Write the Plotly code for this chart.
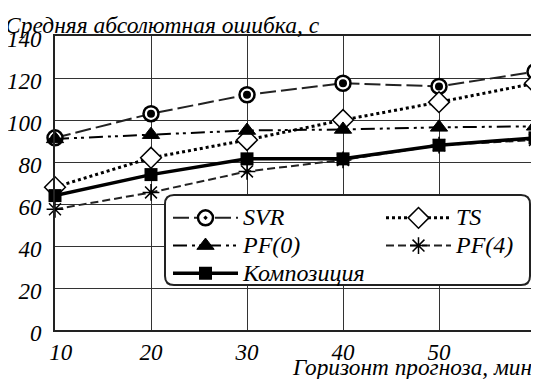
import plotly.graph_objects as go

horizon = [10, 20, 30, 40, 50, 60]
svr = [91.5, 103, 112, 117.5, 116, 123]
ts = [68, 82, 90.5, 100, 108.5, 117.5]
pf0 = [91, 93, 95, 95.5, 96.5, 97]
pf4 = [57.5, 65.5, 75.5, 81, 88, 90.5]
comp = [64, 74, 81.5, 81.5, 88, 91.5]

series_names = ["SVR", "TS", "PF(0)", "PF(4)", "Композиция"]

x_ticks = [10, 20, 30, 40, 50, 60]
x_ticktext = ["\u00a0\u00a010", "20", "30", "40", "50", "60\u00a0\u00a0"]
y_ticks = [0, 20, 40, 60, 80, 100, 120, 140]

y_title = "Средняя абсолютная ошибка, с"
x_title = "Горизонт прогноза, мин"

FONT = "'Liberation Serif', 'Times New Roman', serif"


def lname(s):
    return f"<span style='font-size:24px'>{s}</span>"


fig = go.Figure()

# SVR
fig.add_trace(go.Scatter(
    x=horizon, y=svr, name=lname(series_names[0]), mode="lines+markers",
    line=dict(color="#222", width=2, dash="16px,5px"),
    marker=dict(symbol="circle-dot", size=15, color="white",
                line=dict(color="black", width=2.5)),
    cliponaxis=False, legendgroup="svr"))
# TS
fig.add_trace(go.Scatter(
    x=horizon, y=ts, name=lname(series_names[1]), mode="lines+markers",
    line=dict(color="black", width=3, dash="3px,3px"),
    marker=dict(symbol="diamond", size=16, color="white",
                line=dict(color="black", width=1.5)),
    cliponaxis=False))
# PF(0)
fig.add_trace(go.Scatter(
    x=horizon, y=pf0, name=lname(series_names[2]), mode="lines+markers",
    line=dict(color="black", width=2, dash="14px,5px,3px,4px,3px,5px"),
    marker=dict(symbol="triangle-up", size=15, color="black",
                line=dict(color="black", width=1)),
    cliponaxis=False))
# PF(4)
fig.add_trace(go.Scatter(
    x=horizon, y=pf4, name=lname(series_names[3]), mode="lines+markers",
    line=dict(color="#222", width=2, dash="8px,4px"),
    marker=dict(symbol="asterisk-open", size=14, color="black",
                line=dict(color="black", width=1.5)),
    cliponaxis=False))
# Composition
fig.add_trace(go.Scatter(
    x=horizon, y=comp, name=lname(series_names[4]), mode="lines+markers",
    line=dict(color="black", width=3.5),
    marker=dict(symbol="square", size=13, color="black"),
    cliponaxis=False))
# SVR center dots
fig.add_trace(go.Scatter(
    x=horizon, y=svr, mode="markers", showlegend=False,
    marker=dict(symbol="circle", size=8, color="black"),
    cliponaxis=False, legendgroup="svr", hoverinfo="skip"))

# page offset (default body margin) compensation
OFF = 8
W, H = 539 - OFF, 379 - OFF
L, R, T, B = 55 - OFF, 4, 36 - OFF, 49
pw, ph = W - L - R, H - T - B


def px(x):
    return (x - OFF - L) / pw


def py(y):
    return (H - B - (y - OFF)) / ph


x0, x1 = px(165), px(530)
y0, y1 = py(285), py(195)
rx, ry = 9 / pw, 9 / ph
path = (f"M{x0+rx},{y1} L{x1-rx},{y1} Q{x1},{y1} {x1},{y1-ry} "
        f"L{x1},{y0+ry} Q{x1},{y0} {x1-rx},{y0} "
        f"L{x0+rx},{y0} Q{x0},{y0} {x0},{y0+ry} "
        f"L{x0},{y1-ry} Q{x0},{y1} {x0+rx},{y1} Z")

fig.update_layout(
    width=W, height=H,
    margin=dict(l=L, r=R, t=T, b=B, autoexpand=False),
    paper_bgcolor="white", plot_bgcolor="white",
    font=dict(family=FONT, color="black", size=21),
    showlegend=True,
    legend=dict(
        orientation="h", x=px(168), y=py(199), xanchor="left", yanchor="top",
        bgcolor="rgba(0,0,0,0)", borderwidth=0,
        entrywidth=133, itemwidth=65, traceorder="normal",
        font=dict(family=FONT, size=19, style="italic", color="black"),
        tracegroupgap=0,
    ),
    shapes=[dict(type="path", xref="paper", yref="paper", path=path,
                 fillcolor="white", line=dict(color="#222", width=2),
                 layer="above")],
    xaxis=dict(
        range=[10, 60], tickvals=x_ticks, ticktext=x_ticktext,
        showgrid=True, gridcolor="#333", gridwidth=1,
        showline=True, linecolor="#222", linewidth=2, mirror=True,
        ticks="", zeroline=False,
        tickfont=dict(family=FONT, size=23, style="italic", color="black"),
    ),
    yaxis=dict(
        range=[0, 140], tickvals=y_ticks,
        showgrid=True, gridcolor="#333", gridwidth=1,
        showline=True, linecolor="#222", linewidth=2, mirror=True,
        ticks="", zeroline=False, ticklabelstandoff=7, ticklabelshift=3,
        tickfont=dict(family=FONT, size=23, style="italic", color="black"),
    ),
    annotations=[
        dict(text=y_title, xref="paper", yref="paper",
             x=px(3), y=py(25), xanchor="left", yanchor="middle",
             showarrow=False,
             font=dict(family=FONT, size=23.5, style="italic", color="black")),
        dict(text=x_title, xref="paper", yref="paper",
             x=px(534), y=py(367), xanchor="right", yanchor="middle",
             showarrow=False,
             font=dict(family=FONT, size=23.3, style="italic", color="black")),
    ],
)

fig.write_html("out.html")
